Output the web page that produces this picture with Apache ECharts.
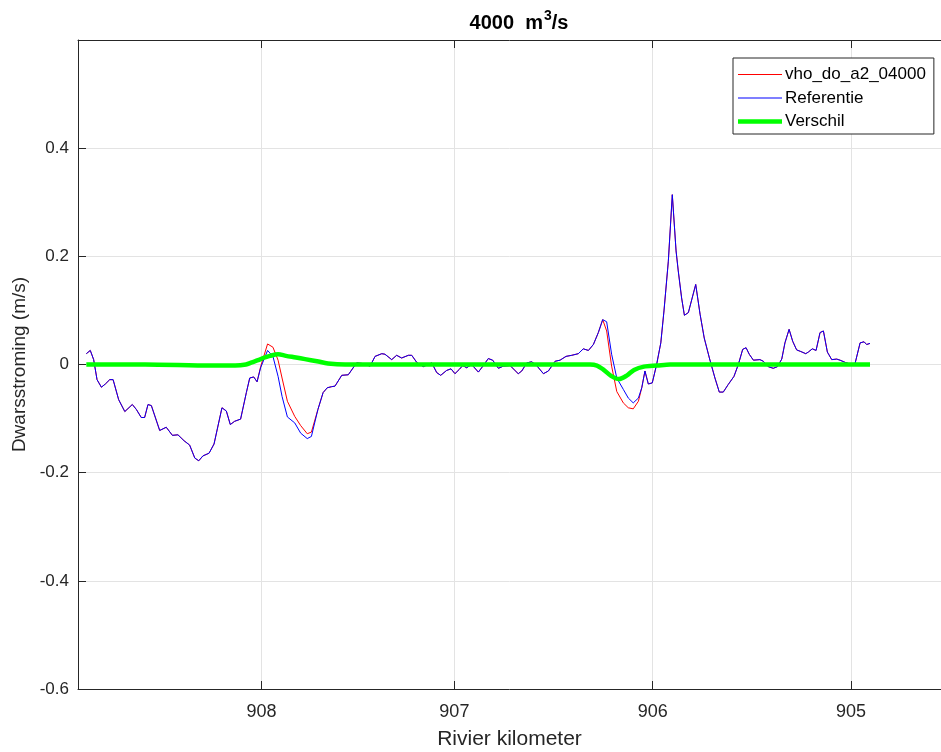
<!DOCTYPE html>
<html><head><meta charset="utf-8">
<script src="https://cdn.jsdelivr.net/npm/echarts@6/dist/echarts.min.js"></script>
<style>html,body{margin:0;padding:0;background:#fff}#c{width:941px;height:752px}</style>
</head><body><div id="c"></div>
<script>
// distance along the river (m) for the two velocity profiles
const afstand = [
  42, 62, 79, 96, 118, 138, 160, 177, 205, 236,
  274, 294, 319, 336, 353, 370, 412, 445, 476, 504,
  535, 563, 589, 609, 630, 661, 686, 726, 748, 768,
  790, 820, 849, 866, 886, 903, 921, 956, 983, 1009,
  1029, 1056, 1093, 1123, 1156, 1177, 1210, 1236, 1257, 1279,
  1296, 1330, 1363, 1405, 1431, 1473, 1498, 1532, 1548, 1582,
  1607, 1632, 1666, 1683, 1708, 1741, 1784, 1809, 1829, 1859,
  1881, 1901, 1923, 1940, 1960, 1985, 2019, 2044, 2069, 2091,
  2120, 2145, 2179, 2220, 2238, 2263, 2288, 2313, 2347, 2372,
  2406, 2431, 2461, 2490, 2523, 2548, 2574, 2599, 2624, 2646,
  2666, 2691, 2717, 2750, 2775, 2800, 2826, 2843, 2859, 2876,
  2896, 2918, 2939, 2955, 2977, 2997, 3016, 3027, 3044, 3058,
  3078, 3115, 3137, 3158, 3184, 3212, 3234, 3254, 3279, 3308,
  3330, 3352, 3369, 3385, 3406, 3439, 3456, 3481, 3506, 3527,
  3549, 3565, 3586, 3604, 3624, 3645, 3670, 3683, 3703, 3722,
  3742, 3759, 3779, 3801, 3826, 3843, 3868, 3893, 3918, 3944,
  3964, 3977, 3994
];
const referentie = [
  0.020, 0.026, 0.009, -0.028, -0.042, -0.036, -0.028, -0.028, -0.065, -0.087,
  -0.074, -0.083, -0.098, -0.098, -0.074, -0.076, -0.122, -0.116, -0.131, -0.130,
  -0.141, -0.149, -0.173, -0.178, -0.169, -0.164, -0.147, -0.080, -0.086, -0.111,
  -0.105, -0.101, -0.052, -0.025, -0.023, -0.032, -0.006, 0.026, 0.015, -0.022,
  -0.059, -0.097, -0.108, -0.127, -0.137, -0.133, -0.083, -0.052, -0.043, -0.041,
  -0.040, -0.020, -0.019, 0.003, 0.002, -0.003, 0.015, 0.020, 0.019, 0.009,
  0.017, 0.012, 0.017, 0.017, 0.004, -0.004, 0.003, -0.015, -0.020, -0.011,
  -0.008, -0.017, -0.009, -0.002, -0.006, 0.000, -0.014, -0.002, 0.011, 0.008,
  -0.007, -0.003, -0.002, -0.017, -0.012, 0.003, 0.005, -0.002, -0.017, -0.012,
  0.006, 0.008, 0.015, 0.017, 0.020, 0.029, 0.026, 0.037, 0.059, 0.083,
  0.079, 0.019, -0.025, -0.046, -0.062, -0.071, -0.062, -0.043, -0.012, -0.036,
  -0.034, 0.000, 0.040, 0.099, 0.191, 0.314, 0.210, 0.173, 0.123, 0.091,
  0.096, 0.148, 0.093, 0.049, 0.012, -0.025, -0.051, -0.051, -0.037, -0.022,
  0.000, 0.028, 0.031, 0.019, 0.008, 0.009, 0.006, -0.004, -0.007, -0.004,
  0.010, 0.040, 0.065, 0.043, 0.027, 0.024, 0.020, 0.023, 0.029, 0.026,
  0.059, 0.062, 0.023, 0.009, 0.010, 0.008, 0.004, 0.001, 0.001, 0.040,
  0.042, 0.037, 0.039
];
const vho = [
  0.020, 0.026, 0.009, -0.028, -0.042, -0.036, -0.028, -0.028, -0.065, -0.087,
  -0.074, -0.083, -0.098, -0.098, -0.074, -0.076, -0.122, -0.116, -0.131, -0.130,
  -0.141, -0.149, -0.173, -0.178, -0.169, -0.164, -0.147, -0.080, -0.086, -0.111,
  -0.105, -0.101, -0.052, -0.025, -0.023, -0.032, -0.004, 0.038, 0.032, 0.008,
  -0.025, -0.068, -0.096, -0.113, -0.128, -0.125, -0.083, -0.052, -0.043, -0.041,
  -0.040, -0.020, -0.019, 0.003, 0.002, -0.003, 0.015, 0.020, 0.019, 0.009,
  0.017, 0.012, 0.017, 0.017, 0.004, -0.004, 0.003, -0.015, -0.020, -0.011,
  -0.008, -0.017, -0.009, -0.002, -0.006, 0.000, -0.014, -0.002, 0.011, 0.008,
  -0.007, -0.003, -0.002, -0.017, -0.012, 0.003, 0.005, -0.002, -0.017, -0.012,
  0.006, 0.008, 0.015, 0.017, 0.020, 0.029, 0.026, 0.037, 0.059, 0.083,
  0.062, -0.003, -0.050, -0.071, -0.080, -0.082, -0.068, -0.043, -0.012, -0.036,
  -0.034, 0.000, 0.040, 0.099, 0.191, 0.314, 0.210, 0.173, 0.123, 0.091,
  0.096, 0.148, 0.093, 0.049, 0.012, -0.025, -0.051, -0.051, -0.037, -0.022,
  0.000, 0.028, 0.031, 0.019, 0.008, 0.009, 0.006, -0.004, -0.007, -0.004,
  0.010, 0.040, 0.065, 0.043, 0.027, 0.024, 0.020, 0.023, 0.029, 0.026,
  0.059, 0.062, 0.023, 0.009, 0.010, 0.008, 0.004, 0.001, 0.001, 0.040,
  0.042, 0.037, 0.039
];
const verschilAfstand = [42, 338, 671, 792, 847, 877, 908, 933, 968, 1009, 1049, 1099, 1145, 1205, 1261, 1347, 2582, 2617, 2648, 2688, 2728, 2769, 2804, 2854, 2920, 2986, 3994];
const verschil = [0, 0, -0.002, -0.002, 0, 0.004, 0.008, 0.012, 0.016, 0.019, 0.016, 0.013, 0.010, 0.006, 0.002, 0, 0, -0.002, -0.009, -0.021, -0.027, -0.020, -0.010, -0.004, -0.002, 0, 0];

// river-kilometre ticks (distance position -> label)
const kmTickPos = [925, 1898, 2898, 3898];
const kmTickLabels = ['908', '907', '906', '905'];
const seriesNames = ['vho_do_a2_04000', 'Referentie', 'Verschil'];

const FONT = "'Liberation Sans', Arial, Helvetica, sans-serif";
const AX = '#262626';
const GRIDC = '#e3e3e3';

function kmLabel(v) {
  let best = 0;
  for (let i = 1; i < kmTickPos.length; i++) {
    if (Math.abs(kmTickPos[i] - v) < Math.abs(kmTickPos[best] - v)) best = i;
  }
  return kmTickLabels[best];
}

const chart = echarts.init(document.getElementById('c'), null, {renderer: 'canvas'});
chart.setOption({
  animation: false,
  backgroundColor: '#ffffff',
  textStyle: {fontFamily: FONT},
  title: {
    text: '{b|4000  m}{s|3}{b|/s}',
    left: 514, top: 4, textAlign: 'center',
    textStyle: {
      rich: {
        b: {fontSize: 20, fontWeight: 'bold', color: '#000', fontFamily: FONT, verticalAlign: 'bottom'},
        s: {fontSize: 14, fontWeight: 'bold', color: '#000', fontFamily: FONT, verticalAlign: 'top', padding: [0, 0, 10, 1]}
      }
    }
  },
  grid: {left: 78, right: 0, top: 40, bottom: 63, containLabel: false, outerBoundsMode: 'none'},
  legend: {
    orient: 'vertical', left: 733, top: 58,
    data: [
      {name: seriesNames[0], icon: 'path://M0,0H44V1.2H0Z'},
      {name: seriesNames[1], icon: 'path://M0,0H44V1.2H0Z'},
      {name: seriesNames[2], icon: 'path://M0,0H44V4.5H0Z'}
    ],
    itemWidth: 44, itemHeight: 14, itemGap: 6.5,
    padding: [8, 8, 4, 5],
    backgroundColor: '#fff', borderColor: AX, borderWidth: 1,
    textStyle: {fontSize: 17, lineHeight: 17, color: '#000', fontFamily: FONT, padding: [0, 0, 0, -2]}
  },
  xAxis: [{
    type: 'value', min: 0, max: 4352, position: 'bottom',
    name: 'Rivier kilometer', nameLocation: 'middle', nameGap: 40,
    nameTextStyle: {fontSize: 21, color: AX, fontFamily: FONT},
    axisLine: {show: true, onZero: false, lineStyle: {color: AX, width: 1}},
    axisTick: {show: true, inside: true, length: 8, customValues: kmTickPos, lineStyle: {color: AX}},
    axisLabel: {show: true, customValues: kmTickPos, formatter: kmLabel, fontSize: 18, color: AX, margin: 14, fontFamily: FONT},
    splitLine: {show: true, lineStyle: {color: GRIDC, width: 1}}
  }, {
    type: 'value', min: 0, max: 4352, position: 'top',
    axisLine: {show: true, onZero: false, lineStyle: {color: AX, width: 1}},
    axisTick: {show: true, inside: true, length: 8, customValues: kmTickPos, lineStyle: {color: AX}},
    axisLabel: {show: false},
    splitLine: {show: false}
  }],
  yAxis: [{
    type: 'value', min: -0.6, max: 0.6, interval: 0.2, position: 'left',
    name: 'Dwarsstroming (m/s)', nameLocation: 'middle', nameGap: 48,
    nameTextStyle: {fontSize: 19, color: AX, fontFamily: FONT},
    axisLine: {show: true, onZero: false, lineStyle: {color: AX, width: 1}},
    axisTick: {show: true, inside: true, length: 8, lineStyle: {color: AX}},
    axisLabel: {show: true, showMaxLabel: false, fontSize: 17, color: AX, margin: 9, fontFamily: FONT},
    splitLine: {show: true, lineStyle: {color: GRIDC, width: 1}}
  }],
  series: [{
    name: seriesNames[0], type: 'line', xAxisIndex: 0, yAxisIndex: 0,
    data: afstand.map((d, i) => [d, vho[i]]),
    symbol: 'none', color: '#ff0000', lineStyle: {width: 1, color: '#ff0000'}
  }, {
    name: seriesNames[1], type: 'line', xAxisIndex: 0, yAxisIndex: 0,
    data: afstand.map((d, i) => [d, referentie[i]]),
    symbol: 'none', color: '#0000ff', lineStyle: {width: 1, color: '#0000ff'}
  }, {
    name: seriesNames[2], type: 'line', xAxisIndex: 0, yAxisIndex: 0,
    data: verschilAfstand.map((d, i) => [d, verschil[i]]),
    symbol: 'none', smooth: 0.3, color: '#00ff00', lineStyle: {width: 4.5, color: '#00ff00'}
  }]
});
</script>
</body></html>
